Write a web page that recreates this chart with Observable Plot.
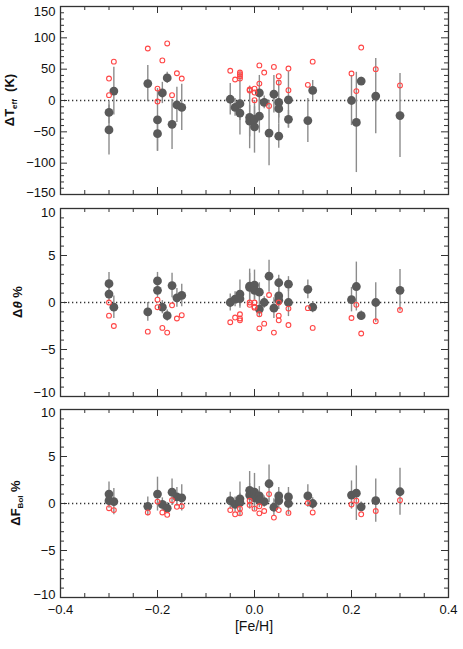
<!DOCTYPE html>
<html><head><meta charset="utf-8">
<script src="https://cdn.jsdelivr.net/npm/d3@7"></script>
<script src="https://cdn.jsdelivr.net/npm/@observablehq/plot@0.6"></script>
<style>
html,body{margin:0;padding:0;background:#fff;}
#chart svg{display:block;overflow:visible;}
</style>
</head><body><div id="chart"></div>
<script>
// ---------- x axis ----------
const xMajor = [-0.4, -0.2, 0.0, 0.2, 0.4];
const xMinor = [-0.35,-0.3,-0.25,-0.15,-0.1,-0.05,0.05,0.1,0.15,0.25,0.3,0.35];

// ---------- panel 1 : ΔTeff (K) ----------
const tGrayFeh = [-0.30,-0.30,-0.29,-0.22,-0.20,-0.20,-0.19,-0.18,-0.17,-0.16,-0.15,-0.05,-0.04,-0.03,-0.03,-0.01,-0.01,0.00,0.00,0.01,0.01,0.02,0.03,0.04,0.05,0.05,0.05,0.07,0.07,0.11,0.12,0.20,0.21,0.22,0.25,0.30];
const tGrayVal = [-19,-47,15,27,-31,-53,12,36,-38,-7,-11,2,-11,-5,-20,-27,-33,-42,-30,-25,12,-3,-52,10,-3,-13,-57,1,-30,-32,16,0,-35,31,7,-24];
const tGrayErr = [18,40,38,29,50,28,17,9,40,28,37,25,14,50,12,50,25,42,20,27,28,10,52,30,35,15,19,45,14,35,16,40,80,6,60,67];
const tRedFeh = [-0.30,-0.30,-0.29,-0.22,-0.20,-0.20,-0.19,-0.18,-0.17,-0.16,-0.15,-0.05,-0.04,-0.03,-0.03,-0.03,-0.03,-0.01,-0.01,0.00,0.00,0.00,0.01,0.01,0.02,0.03,0.04,0.05,0.05,0.07,0.07,0.11,0.12,0.20,0.21,0.22,0.25,0.30];
const tRedVal = [35,8.5,62,83,19,-1.6,64,91,8.5,43.5,35,47.5,33.5,44.6,42,38.8,35,17.5,16,19,12.7,0.5,56,27,44.6,-8.6,53.6,38.8,28.7,51,16.4,25,62,43,15,84.5,50,24];
const tMajor = [-150,-100,-50,0,50,100,150];
const tMinor = d3.range(-140, 150, 10).filter(v => v % 50 !== 0);

// ---------- panel 2 : Δθ % ----------
const hGrayFeh = [-0.30,-0.30,-0.29,-0.22,-0.20,-0.20,-0.19,-0.18,-0.17,-0.16,-0.15,-0.05,-0.04,-0.03,-0.03,-0.01,-0.01,0.00,0.00,0.01,0.01,0.02,0.03,0.04,0.05,0.05,0.05,0.07,0.07,0.11,0.12,0.20,0.21,0.22,0.25,0.30];
const hGrayVal = [2.0,0.9,-0.5,-1.0,2.3,1.3,-0.5,-1.4,1.8,0.5,0.75,0.0,0.35,0.9,0.4,1.75,1.6,1.85,1.3,1.1,-0.7,0.0,2.8,-0.6,2.1,0.7,0.25,1.95,0.0,1.4,-0.5,0.3,1.7,-1.4,0.0,1.3];
const hGrayErr = [1.2,0.8,1.2,1.0,0.9,0.8,0.7,0.6,1.3,1.0,1.2,0.9,0.8,1.5,0.8,1.8,1.5,1.6,1.0,1.0,0.8,0.6,1.7,1.1,0.8,0.9,1.0,0.8,1.5,1.0,0.6,1.3,2.6,0.5,2.1,2.2];
const hRedFeh = [-0.30,-0.30,-0.29,-0.22,-0.20,-0.20,-0.19,-0.18,-0.17,-0.16,-0.15,-0.05,-0.04,-0.03,-0.03,-0.03,-0.01,-0.01,0.00,0.00,0.00,0.01,0.01,0.02,0.03,0.04,0.05,0.05,0.05,0.07,0.07,0.11,0.12,0.20,0.21,0.22,0.25,0.30];
const hRedVal = [0.0,-1.4,-2.5,-3.1,0.3,-0.5,-2.7,-3.2,-0.3,-1.7,-1.35,-2.1,-1.6,-1.25,-1.7,-1.9,0.0,-0.25,0.0,-0.45,-0.55,-1.25,-2.75,-2.25,0.8,-3.2,0.0,-1.4,-1.9,-0.65,-2.4,-0.6,-2.7,-1.65,-0.25,-3.3,-2.0,-0.8];
const hMajor = [-10,-5,0,5,10];
const hMinor = d3.range(-9, 10, 1).filter(v => v % 5 !== 0);

// ---------- panel 3 : ΔF_Bol % ----------
const fGrayFeh = [-0.30,-0.30,-0.29,-0.22,-0.20,-0.19,-0.18,-0.17,-0.16,-0.15,-0.05,-0.04,-0.03,-0.03,-0.01,-0.01,0.00,0.00,0.01,0.01,0.02,0.03,0.04,0.05,0.05,0.07,0.07,0.11,0.12,0.20,0.21,0.22,0.25,0.30];
const fGrayVal = [1.0,0.3,0.2,-0.3,1.0,-0.1,-0.5,1.2,0.7,0.6,0.3,-0.1,0.5,0.1,1.4,0.9,1.2,0.6,0.8,0.35,0.2,2.1,-0.4,0.8,0.3,0.7,0.0,0.8,0.0,0.9,1.1,-0.35,0.3,1.25];
const fGrayErr = [1.3,0.8,1.4,1.0,1.8,0.7,0.6,1.4,1.0,1.4,0.9,0.8,1.8,1.0,2.0,1.2,2.0,1.0,1.0,0.8,0.6,2.0,0.9,0.9,0.8,1.0,1.2,1.2,0.6,1.5,2.9,0.5,2.3,2.5];
const fRedFeh = [-0.30,-0.29,-0.22,-0.20,-0.19,-0.18,-0.17,-0.16,-0.15,-0.05,-0.04,-0.03,-0.03,-0.01,-0.01,0.00,0.01,0.01,0.02,0.03,0.04,0.05,0.07,0.11,0.12,0.20,0.21,0.22,0.25,0.30];
const fRedVal = [-0.5,-0.7,-0.95,0.2,-0.95,-1.2,0.35,-0.35,-0.3,-0.7,-1.15,-0.55,-1.05,0.3,-0.15,-0.55,-0.3,-1.05,-0.8,1.0,-1.5,-0.7,-1.0,0.05,-0.95,-0.1,0.3,-1.15,-0.8,0.35];
const fMajor = [-10,-5,0,5,10];
const fMinor = d3.range(-9, 10, 1).filter(v => v % 5 !== 0);

// ---------- drawing ----------
const W = 463, ML = 60, MR = 15, IH = 188;
const IW = W - ML - MR;
const FONT = "'Liberation Sans', Arial, Helvetica, sans-serif";

function panel(o) {
  const gray = o.grayFeh.map((x, i) => ({x, y: o.grayVal[i], e: o.grayErr[i]}));
  const red = o.redFeh.map((x, i) => ({x, y: o.redVal[i]}));
  const tk = "#333";
  const yAxisOpts = {tickSize: 0, tickPadding: 5, tickFormat: d3.format("d"), label: null, fontSize: 13, fill: "#111"};
  const inner = o.yMajor.slice(1, -1);
  const marks = [
    Plot.ruleY([0], {stroke: "#333", strokeWidth: 1.3, strokeDasharray: "1.3,2.7"}),
    Plot.ruleX(gray, {x: "x", y1: d => d.y - d.e, y2: d => d.y + d.e, stroke: "#8c8c8c", strokeWidth: 1.4}),
    Plot.dot(gray, {x: "x", y: "y", r: 4.4, fill: "#5a5a5a", stroke: null}),
    Plot.dot(red, {x: "x", y: "y", r: 2.4, stroke: "rgb(255,70,70)", strokeWidth: 1.1, fill: "none"}),
    Plot.tickY(o.yMajor, {insetRight: IW - 7, stroke: tk}),
    Plot.tickY(o.yMajor, {insetLeft: IW - 7, stroke: tk}),
    Plot.tickY(o.yMinor, {insetRight: IW - 4, stroke: tk}),
    Plot.tickY(o.yMinor, {insetLeft: IW - 4, stroke: tk}),
    Plot.tickX(xMajor, {insetTop: IH - 7, stroke: tk}),
    Plot.tickX(xMajor, {insetBottom: IH - 7, stroke: tk}),
    Plot.tickX(xMinor, {insetTop: IH - 4, stroke: tk}),
    Plot.tickX(xMinor, {insetBottom: IH - 4, stroke: tk}),
    Plot.frame({stroke: "#333", strokeWidth: 1.3}),
    Plot.axisY(inner, yAxisOpts),
    Plot.axisY([o.yMajor[o.yMajor.length - 1]], {...yAxisOpts, dy: o.topShift}),
    Plot.axisY([o.yMajor[0]], {...yAxisOpts, dy: o.bottomShift})
  ];
  if (o.showX) marks.push(Plot.axisX(xMajor, {tickSize: 0, tickPadding: 7, tickFormat: d3.format(".1f"), label: null, fontSize: 13, fill: "#111"}));
  const svg = Plot.plot({
    width: W,
    height: o.marginTop + IH + o.marginBottom,
    marginLeft: ML, marginRight: MR, marginTop: o.marginTop, marginBottom: o.marginBottom,
    x: {domain: [-0.4, 0.4], axis: o.showX ? undefined : null},
    y: {domain: o.yDomain},
    style: {fontFamily: FONT, fontSize: "13px", background: "transparent", color: "#111", overflow: "visible"},
    marks
  });
  const cy = o.marginTop + IH / 2;
  const t = d3.select(svg).append("text")
    .attr("transform", `translate(${o.labelX},${cy}) rotate(-90)`)
    .attr("text-anchor", "middle")
    .attr("font-family", FONT).attr("font-weight", "bold").attr("font-size", 13).attr("fill", "#111");
  o.label(t);
  return svg;
}

const root = document.getElementById("chart");

root.appendChild(panel({
  grayFeh: tGrayFeh, grayVal: tGrayVal, grayErr: tGrayErr, redFeh: tRedFeh, redVal: tRedVal,
  yDomain: [-150, 150], yMajor: tMajor, yMinor: tMinor, marginTop: 6, marginBottom: 7, showX: false, labelX: 14,
  topShift: 5, bottomShift: -2,
  label: t => { t.append("tspan").text("ΔT"); t.append("tspan").attr("font-size", 8).attr("dy", 3).text("eff"); t.append("tspan").attr("dy", -3).text("  (K)"); }
}));

root.appendChild(panel({
  grayFeh: hGrayFeh, grayVal: hGrayVal, grayErr: hGrayErr, redFeh: hRedFeh, redVal: hRedVal,
  yDomain: [-10, 10], yMajor: hMajor, yMinor: hMinor, marginTop: 7, marginBottom: 6, showX: false, labelX: 22,
  topShift: 4, bottomShift: -4,
  label: t => { t.append("tspan").text("Δ"); t.append("tspan").attr("font-style", "italic").text("θ"); t.append("tspan").text(" %"); }
}));

const p3 = panel({
  grayFeh: fGrayFeh, grayVal: fGrayVal, grayErr: fGrayErr, redFeh: fRedFeh, redVal: fRedVal,
  yDomain: [-10, 10], yMajor: fMajor, yMinor: fMinor, marginTop: 7, marginBottom: 52, showX: true, labelX: 20,
  topShift: 3, bottomShift: -3,
  label: t => { t.append("tspan").text("ΔF"); t.append("tspan").attr("font-size", 8).attr("dy", 3).text("Bol"); t.append("tspan").attr("dy", -3).text(" %"); }
});
d3.select(p3).append("text")
  .attr("x", ML + IW / 2).attr("y", 7 + IH + 34)
  .attr("text-anchor", "middle")
  .attr("font-family", FONT).attr("font-size", 14).attr("fill", "#111")
  .text("[Fe/H]");
root.appendChild(p3);
</script>
</body></html>
